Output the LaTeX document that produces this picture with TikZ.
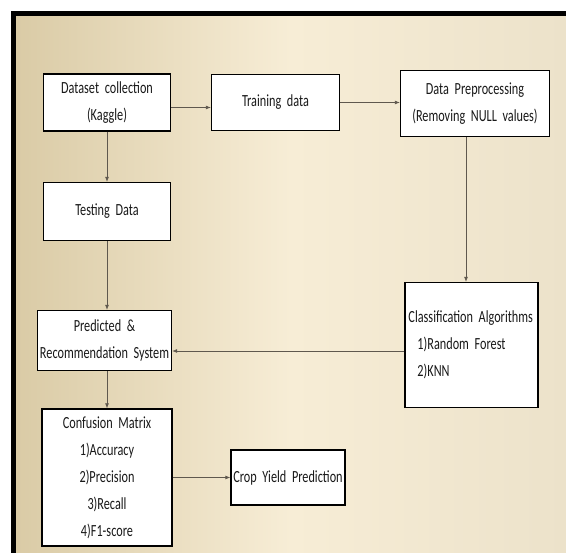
\documentclass[tikz,border=0pt]{standalone}
\usepackage{fontspec}
\usepackage{xcolor}
\usepackage{tikz}
\usetikzlibrary{matrix,arrows.meta}
\newfontfamily\boxfont{Carlito}[FakeStretch=0.72, WordSpace=0.72]
\hyphenpenalty=10000
\definecolor{bgtan}{RGB}{218,203,166}
\definecolor{bglight}{RGB}{247,237,214}
\definecolor{bgright}{RGB}{236,226,202}
\definecolor{flowline}{RGB}{95,88,78}

\begin{document}
\begin{tikzpicture}[x=1pt, y=-1pt,
	box/.style={draw=black, line width=1.3pt, fill=white, text=black!90, font=\boxfont\fontsize{17}{27}\selectfont, align=center, inner sep=2pt, anchor=center},
	flow/.style={draw=flowline, line width=0.8pt, -{Latex[length=5pt,width=4pt]}}]
	\useasboundingbox (0,0) rectangle (566,553);
	\shade[left color=bgtan, right color=bgright, middle color=bglight] (16,16) rectangle (566,553);
	\draw[line width=5pt] (13.5,553) -- (13.5,13.5) -- (566,13.5);
	\matrix(m)[matrix of nodes, nodes={box}, column sep={168.5pt,between origins}, row sep={109pt,between origins}, matrix anchor=m-1-1.center] at (107,102.5) {
		|[text width=123pt, minimum height=57pt]| Dataset collection\par(Kaggle) &|[text width=124pt, minimum height=56pt]| Training data &[29pt]|[text width=145pt, minimum height=66pt, xshift=2pt, yshift=-1pt]| Data Preprocessing\par(Removing NULL values) \\
		|[text width=123pt, minimum height=58pt]| Testing Data & &[29pt] \\[22.5pt]
		|[text width=130pt, minimum height=60pt, xshift=-2.5pt, yshift=2.5pt]| Predicted \&\par Recommendation System & &[29pt]|[text width=126pt, inner xsep=3.5pt, minimum height=125pt, xshift=-1.5pt, yshift=-2pt, align=left]| Classification Algorithms\par\hspace*{9pt}1)Random Forest\par\hspace*{9pt}2)KNN \\[25.5pt]
		|[text width=126pt, minimum height=137pt]| Confusion Matrix\par 1)Accuracy\par 2)Precision\par 3)Recall\par 4)F1-score &|[text width=111pt, inner xsep=1.5pt, minimum height=55pt, xshift=12.5pt]| Crop Yield Prediction &[29pt] \\
	};
	% connectors
	\draw[flow] ([yshift=-5pt]m-1-1.east) -- ([yshift=-5pt]m-1-1.east -| m-1-2.west);
	\draw[flow] (m-1-2.east) -- (m-1-2.east -| m-1-3.west);
	\draw[flow] (m-1-1.south) -- (m-2-1.north);
	\draw[flow] (m-2-1.south) -- (m-2-1.south |- m-3-1.north);
	\draw[flow] ([xshift=-9pt]m-1-3.south) -- ([xshift=-9pt]m-1-3.south |- m-3-3.north);
	\draw[flow] ([yshift=-6pt]m-3-3.west) -- ([yshift=-6pt]m-3-3.west -| m-3-1.east);
	\draw[flow] (m-3-1.south -| m-4-1.north) -- (m-4-1.north);
	\draw[flow] (m-4-1.east) -- (m-4-1.east -| m-4-2.west);
\end{tikzpicture}
\end{document}
